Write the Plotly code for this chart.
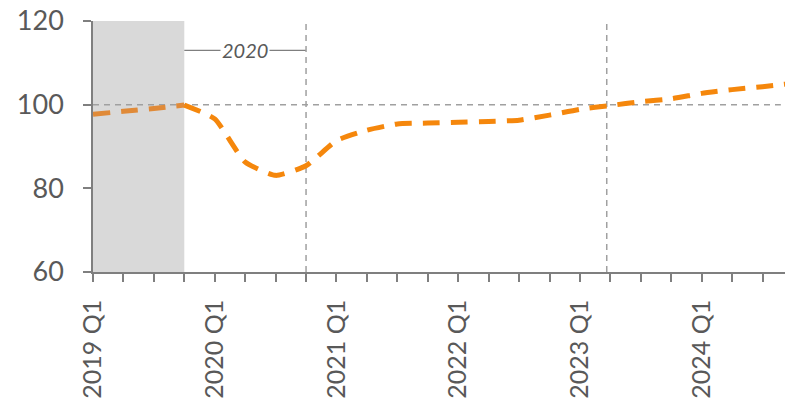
import plotly.graph_objects as go

quarters = [f"{y} Q{q}" for y in range(2019, 2025) for q in range(1, 5)]
values = [97.7, 98.4, 99.1, 99.9, 96.6, 86.3, 83.1, 85.4, 91.4, 93.9, 95.4, 95.6,
          95.8, 96.0, 96.3, 97.5, 98.9, 99.8, 100.7, 101.4, 102.7, 103.6, 104.3, 105.1]
tick_text = [q if q.endswith("Q1") else "" for q in quarters]
y_ticks = [60, 80, 100, 120]
shade_span = (0, 3)
bracket_span = (3, 7)
bracket_label = "2020"
bracket_y = 113
vlines = [7, 16.88]
ref_level = 100

GRAY = "#7f7f7f"
TXT = "#595959"
FONT = "Lato"

fig = go.Figure()
fig.add_trace(go.Scatter(
    x=quarters[:4], y=values[:4], mode="lines",
    line=dict(color="#E08A38", width=5, dash="17px,11px", shape="spline", smoothing=0.5),
    hoverinfo="skip", showlegend=False, cliponaxis=False))
fig.add_trace(go.Scatter(
    x=quarters[3:], y=values[3:], mode="lines",
    line=dict(color="#F5870C", width=5, dash="17px,11px", shape="spline", smoothing=0.5),
    hoverinfo="skip", showlegend=False, cliponaxis=False))

shapes = [
    dict(type="rect", xref="x", yref="y", x0=shade_span[0], x1=shade_span[1], y0=60, y1=120,
         fillcolor="#d9d9d9", line=dict(width=0), layer="below"),
    dict(type="line", xref="x", yref="y", x0=0, x1=22.6, y0=ref_level, y1=ref_level,
         line=dict(color="#a0a0a0", width=1.5, dash="6px,5px"), layer="below"),
    dict(type="line", xref="x", yref="y", x0=bracket_span[0], x1=bracket_span[1],
         y0=bracket_y, y1=bracket_y, line=dict(color=GRAY, width=1.2), layer="below"),
]
for v in vlines:
    shapes.append(dict(type="line", xref="x", yref="y", x0=v, x1=v, y0=60, y1=120,
                       line=dict(color="#a0a0a0", width=1.5, dash="6px,5px"), layer="below"))

fig.update_layout(
    width=793, height=405,
    margin=dict(l=85, r=8, t=13, b=141),
    paper_bgcolor="white", plot_bgcolor="white",
    shapes=shapes,
    annotations=[dict(x=(bracket_span[0] + bracket_span[1]) / 2, y=bracket_y, xref="x", yref="y",
                      text=f"<i>{bracket_label}</i>", showarrow=False, bgcolor="white",
                      borderpad=1, font=dict(family=FONT, size=20, color=TXT))],
    font=dict(family=FONT, color=TXT),
)
fig.update_xaxes(
    type="category", categoryorder="array", categoryarray=quarters,
    range=[0, 23], tickmode="array", tickvals=quarters, ticktext=tick_text,
    tickangle=-90, ticks="outside", ticklen=8, tickwidth=1.5, tickcolor=GRAY,
    showline=True, linecolor=GRAY, linewidth=1.5, showgrid=False, zeroline=False,
    automargin=False, ticklabeloverflow="allow",
    tickfont=dict(family=FONT, size=25, color=TXT), ticklabelstandoff=8)
fig.update_yaxes(
    range=[60, 120], tickmode="array", tickvals=y_ticks,
    ticks="outside", ticklen=8, tickwidth=1.5, tickcolor=GRAY,
    showline=True, linecolor=GRAY, linewidth=1.5, showgrid=False, zeroline=False,
    automargin=False, ticklabeloverflow="allow",
    tickfont=dict(family=FONT, size=27, color=TXT), ticklabelstandoff=14)

fig.write_html("out.html")
